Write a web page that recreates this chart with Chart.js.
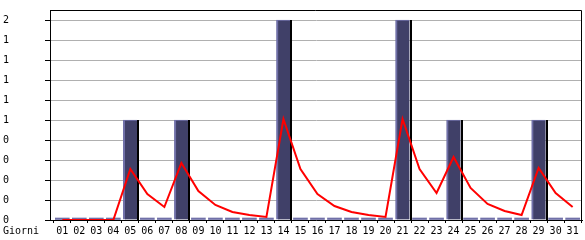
<!DOCTYPE html>
<html>
<head>
<meta charset="utf-8">
<script src="https://cdn.jsdelivr.net/npm/chart.js@4/dist/chart.umd.min.js"></script>
<style>
html,body{margin:0;padding:0;background:#fff;}
#wrap{width:585px;height:240px;position:relative;}
</style>
</head>
<body>
<div id="wrap"><canvas id="c" width="585" height="240"></canvas></div>
<script>
const days = ['01','02','03','04','05','06','07','08','09','10','11','12','13','14','15','16','17','18','19','20','21','22','23','24','25','26','27','28','29','30','31'];
const visits = [0,0,0,0,1,0,0,1,0,0,0,0,0,2,0,0,0,0,0,0,2,0,0,1,0,0,0,0,1,0,0];
const trend = [0,0,0,0,0.51,0.26,0.13,0.57,0.29,0.15,0.08,0.05,0.03,1.01,0.51,0.26,0.14,0.08,0.05,0.03,1.01,0.51,0.27,0.63,0.32,0.16,0.09,0.05,0.52,0.27,0.13];
const yTicks = {min:0, max:2.1, step:0.2};
const xLabel = 'Giorni';

const FONT = {family:'"DejaVu Sans Mono", monospace', size:10};
const LAV = '#7070a8';
const FILL = '#404068';

const framePlugin = {
  id:'frame',
  afterDatasetDraw(chart, args){
    const ds = chart.data.datasets[args.index];
    if (ds.type !== 'bar') return;
    const ctx = chart.ctx;
    ctx.save();
    ctx.fillStyle = '#000';
    args.meta.data.forEach((el, i) => {
      if (!ds.data[i]) return;
      const p = el.getProps(['x','y','base','width'], true);
      ctx.fillRect(Math.round(p.x + p.width/2), Math.round(p.y), 2, Math.round(p.base - p.y));
    });
    ctx.restore();
  },
  afterDraw(chart){
    const {ctx, chartArea:a} = chart;
    ctx.save();
    ctx.strokeStyle = '#000';
    ctx.lineWidth = 1;
    ctx.beginPath();
    ctx.moveTo(a.left, a.top + 0.5);
    ctx.lineTo(a.right - 0.5, a.top + 0.5);
    ctx.lineTo(a.right - 0.5, a.bottom);
    ctx.stroke();
    ctx.fillStyle = '#000';
    ctx.font = '10px "DejaVu Sans Mono", monospace';
    ctx.textBaseline = 'middle';
    ctx.textAlign = 'left';
    ctx.fillText(xLabel, 3, 231);
    ctx.restore();
  }
};

new Chart(document.getElementById('c'), {
  data:{
    labels: days,
    datasets:[
      {type:'line', data: trend, borderColor:'#ff0000', borderWidth:2, pointRadius:0, tension:0, order:0},
      {type:'bar', data: visits, order:1,
        backgroundColor: c => (c.raw ? FILL : LAV),
        borderColor: LAV,
        borderWidth: c => (c.raw ? {left:2, top:1, right:0, bottom:0} : 0),
        borderSkipped: false,
        barThickness: 14,
        minBarLength: 2}
    ]
  },
  options:{
    responsive:false,
    animation:false,
    devicePixelRatio:1,
    layout:{padding:{left:3, right:3, top:10, bottom:0}},
    plugins:{legend:{display:false}, tooltip:{enabled:false}},
    scales:{
      x:{type:'linear', min:0.277, max:31.55, offset:false,
        afterFit(s){ s.height = 20; },
        border:{display:true, color:'#000', width:1},
        grid:{display:true, drawOnChartArea:false, drawTicks:true, tickLength:3, tickColor:'#000'},
        ticks:{stepSize:1, autoSkip:false, maxRotation:0, includeBounds:false, padding:2, color:'#000', font:FONT,
          callback: v => days[Math.round(v) - 1]}
      },
      y:{type:'linear', min:yTicks.min, max:yTicks.max,
        afterFit(s){ s.width = 47; },
        border:{display:true, color:'#000', width:1},
        grid:{color:'#b0b0b0', tickColor:'#000', tickLength:5, lineWidth:1},
        ticks:{stepSize:yTicks.step, includeBounds:false, crossAlign:'far', color:'#000', font:FONT,
          callback: v => String(Math.floor(v + 1e-6))}
      }
    }
  },
  plugins:[framePlugin]
});
</script>
</body>
</html>
